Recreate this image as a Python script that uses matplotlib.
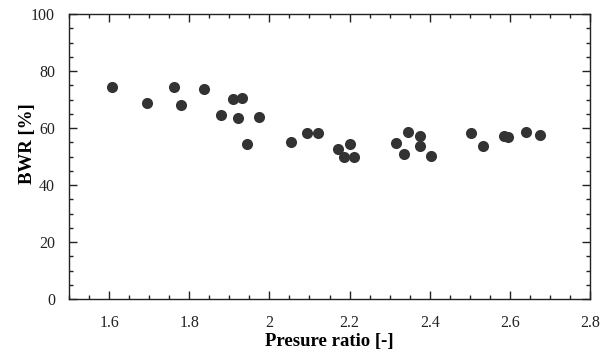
import matplotlib
matplotlib.use("Agg")
import matplotlib.pyplot as plt
from matplotlib.ticker import MultipleLocator

pressure_ratio = [1.608, 1.694, 1.761, 1.779, 1.836, 1.880, 1.909, 1.932, 1.922, 1.944,
                  1.975, 2.054, 2.095, 2.121, 2.171, 2.201, 2.185, 2.212, 2.316, 2.346,
                  2.376, 2.376, 2.337, 2.404, 2.503, 2.533, 2.585, 2.595, 2.641, 2.674]
bwr = [74.5, 68.9, 74.5, 68.0, 73.6, 64.6, 70.3, 70.5, 63.4, 54.4,
       64.0, 55.1, 58.1, 58.1, 52.5, 54.3, 49.7, 49.7, 54.8, 58.7,
       57.3, 53.6, 50.9, 50.3, 58.1, 53.6, 57.3, 56.9, 58.7, 57.5]
x_ticks = [1.6, 1.8, 2.0, 2.2, 2.4, 2.6, 2.8]
x_tick_labels = ['1.6', '1.8', '2', '2.2', '2.4', '2.6', '2.8']

plt.rcParams['font.family'] = ['Liberation Serif', 'DejaVu Serif']

fig = plt.figure(figsize=(6.08, 3.54), dpi=100)
ax = fig.add_axes([69/608, 1-299/354, (590-69)/608, (299-14)/354])

ax.scatter(pressure_ratio, bwr, s=64, color='#333333', zorder=3, linewidths=0)

ax.set_xlim(1.5, 2.8)
ax.set_ylim(0, 100)
ax.set_xticks(x_ticks)
ax.set_xticklabels(x_tick_labels)
ax.xaxis.set_minor_locator(MultipleLocator(0.05))
ax.yaxis.set_major_locator(MultipleLocator(20))
ax.yaxis.set_minor_locator(MultipleLocator(5))

ax.tick_params(which='both', direction='in', top=True, right=True, labelsize=11.5,
               color='#222222', labelcolor='#222222')
ax.tick_params(which='major', length=6, width=1)
ax.tick_params(which='minor', length=3, width=1)
ax.tick_params(axis='x', pad=11.5)
ax.tick_params(axis='y', pad=10)
for sp in ax.spines.values():
    sp.set_linewidth(1)
    sp.set_color('#222222')

ax.set_xlabel('Presure ratio [-]', fontsize=13.5, fontweight='bold')
ax.set_ylabel('BWR [%]', fontsize=13.5, fontweight='bold')
ax.xaxis.set_label_coords(0.499, -0.12)
ax.yaxis.set_label_coords(-0.063, 0.544)

fig.savefig('out.png', dpi=100)
